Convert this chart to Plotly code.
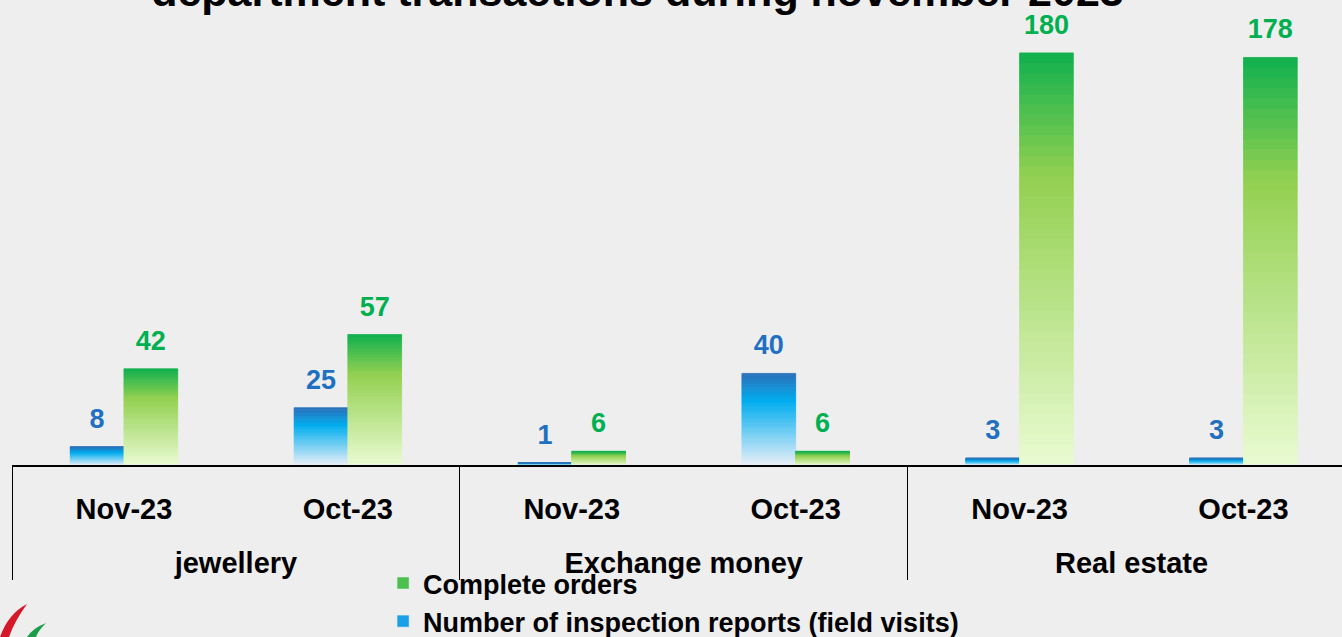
import plotly.graph_objects as go

# ---- data ----
group_names = ["jewellery", "jewellery", "Exchange money", "Exchange money", "Real estate", "Real estate"]
months = ["Nov-23", "Oct-23", "Nov-23", "Oct-23", "Nov-23", "Oct-23"]
inspections = [8, 25, 1, 40, 3, 3]
complete_orders = [42, 57, 6, 6, 180, 178]

title_text = "department transactions during november 2023"
name_insp = "Number of inspection reports (field visits)"
name_comp = "Complete orders"

# ---- styling ----
FONT = "Arial Black, Liberation Sans, Arial, sans-serif"
BLUE_STOPS = [(0.0, (0x2B, 0x70, 0xBA)), (0.3, (0x00, 0xAE, 0xEF)), (1.0, (0xEA, 0xEF, 0xF8))]
GREEN_STOPS = [(0.0, (0x10, 0xB0, 0x4E)), (0.3, (0x92, 0xD0, 0x50)), (1.0, (0xEA, 0xFB, 0xD2))]
N_SEG = 40


def interp(stops, t):
    for (t0, c0), (t1, c1) in zip(stops[:-1], stops[1:]):
        if t0 <= t <= t1:
            f = (t - t0) / (t1 - t0)
            return "rgb(%d,%d,%d)" % tuple(round(a + (b - a) * f) for a, b in zip(c0, c1))
    return "rgb(%d,%d,%d)" % stops[-1][1]


# second level labels get a leading blank line to push them further down
x = [["<br>" + g for g in group_names], months]
fig = go.Figure()


def add_gradient_bars(values, stops, group, name, mid_color, rank, label_color):
    for k in range(N_SEG):
        t_top = 1 - (k + 0.5) / N_SEG  # fraction from top of bar
        col = interp(stops, t_top)
        fig.add_trace(go.Bar(
            x=x,
            y=[v / N_SEG for v in values],
            base=[v * k / N_SEG for v in values],
            offsetgroup=group,
            marker=dict(color=col, line=dict(width=0.8, color=col)),
            showlegend=False,
            hoverinfo="skip",
        ))
    # legend entry
    fig.add_trace(go.Bar(
        x=x, y=[0] * len(values), offsetgroup=group, name=name,
        marker=dict(color=mid_color), legendrank=rank, hoverinfo="skip",
    ))
    # value labels
    fig.add_trace(go.Scatter(
        x=x, y=values, mode="markers+text", offsetgroup=group,
        text=[str(v) for v in values], textposition="top center",
        textfont=dict(family="Liberation Sans, Arial, sans-serif", size=27, color=label_color, weight="bold"),
        marker=dict(size=18, color="rgba(0,0,0,0)"),
        showlegend=False, hoverinfo="skip", cliponaxis=False,
    ))


add_gradient_bars(inspections, BLUE_STOPS, "insp", name_insp, "#1AA0E6", 2, "#1F70C1")
add_gradient_bars(complete_orders, GREEN_STOPS, "comp", name_comp, "#4CC04E", 1, "#00B050")

# decorative logo leaves (bottom-left corner), paper coordinates
def px_to_paper(px, py):
    return (px - 12) / 1330, (465 - py) / 435


def path_from(points):
    pts = [px_to_paper(*p) for p in points]
    s = "M %f,%f" % pts[0]
    for i in range(1, len(pts) - 1, 2):
        s += " Q %f,%f %f,%f" % (pts[i] + pts[i + 1])
    return s + " Z"


logo_shapes = [
    dict(type="path", xref="paper", yref="paper", line=dict(width=0), fillcolor="#D7182A",
         path=path_from([(0, 637), (8, 614), (27, 604), (14, 622), (9, 637)])),
    dict(type="path", xref="paper", yref="paper", line=dict(width=0), fillcolor="#1B9E4B",
         path=path_from([(27, 637), (33, 628), (46, 623), (38, 631), (36, 637)])),
]

fig.update_layout(
    width=1342, height=637,
    margin=dict(l=12, r=0, t=30, b=172, autoexpand=False),
    paper_bgcolor="#EEEEEE", plot_bgcolor="#EEEEEE",
    barmode="group", bargap=0.52, bargroupgap=0,
    scattermode="group",
    font=dict(family=FONT, color="black"),
    title=dict(text=title_text, x=0.475, xanchor="center", y=0.991, yanchor="bottom",
               font=dict(family=FONT, size=43, color="black", weight="bold")),
    legend=dict(x=0.279, xanchor="left", y=-0.416, yanchor="bottom", orientation="v",
                bgcolor="rgba(0,0,0,0)",
                font=dict(family=FONT, size=27, color="black", weight="bold"),
                traceorder="normal"),
    showlegend=True,
    shapes=logo_shapes,
)
fig.update_xaxes(
    type="multicategory", range=[-0.5, 5.44],
    showline=True, linecolor="black", linewidth=1.5,
    showdividers=True, dividercolor="black", dividerwidth=1,
    tickfont=dict(family=FONT, size=29, color="black", weight="bold"),
    ticks="", showgrid=False, ticklabelstandoff=17,
)
fig.update_yaxes(range=[0, 190], visible=False, showgrid=False, zeroline=False)

fig.write_html("out.html", config={"displayModeBar": False},
               post_script="document.body.style.margin='0px';")
